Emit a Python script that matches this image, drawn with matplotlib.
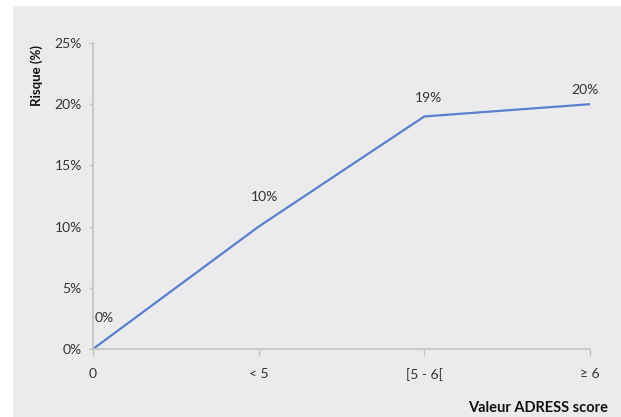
import matplotlib
matplotlib.use('Agg')

import matplotlib.pyplot as plt
from matplotlib.patches import Rectangle

# ADRESS score categories and risk values (%)
categories = ['0', '< 5', '[5 - 6[', '\u2265 6']
risk = [0, 10, 19, 20]
yticks = [0, 5, 10, 15, 20, 25]

plt.rcParams['font.family'] = ['Lato', 'DejaVu Sans']

txt_color = '#333333'
axis_color = '#c4c4c4'
line_color = '#5a7fcf'

fig = plt.figure(figsize=(6.21, 4.17), dpi=100)
fig.patch.set_facecolor('white')
# grey panel behind the plot
fig.patches.append(Rectangle((13 / 621, 0), 1 - 13 / 621, 1 - 6 / 417,
                             transform=fig.transFigure, facecolor='#ebebed',
                             edgecolor='none', zorder=-5))

ax = fig.add_axes([93 / 621, 1 - 349 / 417, (590 - 93) / 621, (349 - 43) / 417])
ax.set_facecolor('none')

x = list(range(len(categories)))
ax.plot(x, risk, color=line_color, lw=1.6, solid_capstyle='round')

# value labels over each point (offsets in points)
offsets = [(8, 18), (4, 17), (3, 9), (-4, 6)]
for xi, v, off in zip(x, risk, offsets):
    ax.annotate(f'{v}%', (xi, v), xytext=off, textcoords='offset points',
                ha='center', va='bottom', fontsize=10, color=txt_color)

ax.set_xlim(0, 3)
ax.set_ylim(0, 25)
ax.set_xticks(x)
ax.set_xticklabels(categories)
ax.set_yticks(yticks)
ax.set_yticklabels([f'{t}%' for t in yticks])

for s in ['top', 'right']:
    ax.spines[s].set_visible(False)
for s in ['left', 'bottom']:
    ax.spines[s].set_color(axis_color)
    ax.spines[s].set_linewidth(1.2)

ax.tick_params(axis='y', direction='out', length=3, width=1, color=axis_color,
               labelsize=10, labelcolor=txt_color, pad=5)
ax.tick_params(axis='x', direction='out', length=5, width=1, color=axis_color,
               labelsize=10, labelcolor=txt_color, pad=9)
for lbl in ax.get_xticklabels() + ax.get_yticklabels():
    lbl.set_clip_on(False)

fig.text(37 / 621, 1 - 75 / 417, 'Risque (%)', rotation=90, ha='center',
         va='center', fontsize=9.5, fontweight='bold', color='#111111')
fig.text(608 / 621, 1 - 408 / 417, 'Valeur ADRESS score', ha='right',
         va='center', fontsize=10.5, fontweight='bold', color='#111111')

plt.savefig('out.png', dpi=100)
